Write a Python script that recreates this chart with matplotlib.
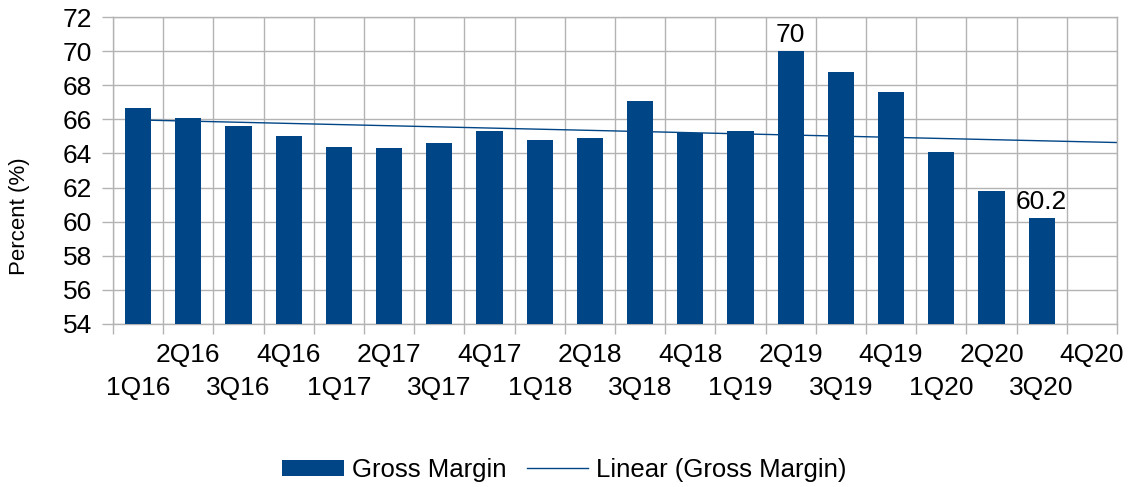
import numpy as np
import matplotlib
matplotlib.use("Agg")
import matplotlib.pyplot as plt

plt.rcParams['font.family'] = ['Liberation Sans', 'DejaVu Sans']

# quarters on the x axis (4Q20 has no bar yet)
quarters = ['1Q16', '2Q16', '3Q16', '4Q16', '1Q17', '2Q17', '3Q17', '4Q17',
            '1Q18', '2Q18', '3Q18', '4Q18', '1Q19', '2Q19', '3Q19', '4Q19',
            '1Q20', '2Q20', '3Q20', '4Q20']
gross_margin = [66.7, 66.1, 65.6, 65.0, 64.4, 64.3, 64.6, 65.3, 64.8, 64.9,
                67.1, 65.2, 65.3, 70.0, 68.8, 67.6, 64.1, 61.8, 60.2]
labelled = {'2Q19': '70', '3Q20': '60.2'}

bar_color = '#004586'
grid_color = '#b3b3b3'

fig = plt.figure(figsize=(11.29, 4.87), dpi=100)
ax = fig.add_axes([113/1129, 1-323.7/487, (1117-113)/1129, (323.7-17.3)/487])

x = np.arange(len(gross_margin))
bars = ax.bar(x, np.array(gross_margin) - 54, bottom=54, width=0.52,
              color=bar_color, zorder=3, label='Gross Margin')

# linear trend over the data, extended to the right edge
slope, icpt = np.polyfit(x, gross_margin, 1)
xt = np.array([0, len(quarters) - 0.5])
trend, = ax.plot(xt, icpt + slope * xt, color=bar_color, lw=1, zorder=2,
                 label='Linear (Gross Margin)')

for q, txt in labelled.items():
    i = quarters.index(q)
    ax.annotate(txt, (i, gross_margin[i]), xytext=(0, 3), textcoords='offset points',
                ha='center', va='bottom', fontsize=19, zorder=4)

ax.set_xlim(-0.5, len(quarters) - 0.5)
ax.set_ylim(54, 72)
ax.set_yticks(np.arange(54, 73, 2))

# gridlines/ticks at category boundaries
ax.set_xticks(np.arange(-0.5, len(quarters), 1))
ax.set_xticklabels([])
ax.tick_params(axis='x', which='major', length=7.5, color=grid_color, width=1)
ax.tick_params(axis='y', length=8, color=grid_color, width=1, pad=7, labelsize=19)

# staggered category labels
for i, q in enumerate(quarters):
    off = -14 if i % 2 else -38
    ax.annotate(q, (i, 0), xycoords=('data', 'axes fraction'), xytext=(0, off),
                textcoords='offset points', ha='center', va='top', fontsize=19,
                annotation_clip=False)

ax.grid(True, which='major', color=grid_color, lw=1, zorder=0)
for s in ax.spines.values():
    s.set_color(grid_color)
    s.set_linewidth(1)

fig.text(20/1129, 1-216/487, 'Percent (%)', rotation=90, ha='center', va='center',
         fontsize=16)

fig.legend([bars, trend], ['Gross Margin', 'Linear (Gross Margin)'],
           loc='center', bbox_to_anchor=(0.5, 1-470/487), ncol=2, frameon=False,
           fontsize=18.5, handlelength=2.4, handleheight=0.6, handletextpad=0.3,
           columnspacing=0.8)

fig.savefig('out.png', dpi=100)
